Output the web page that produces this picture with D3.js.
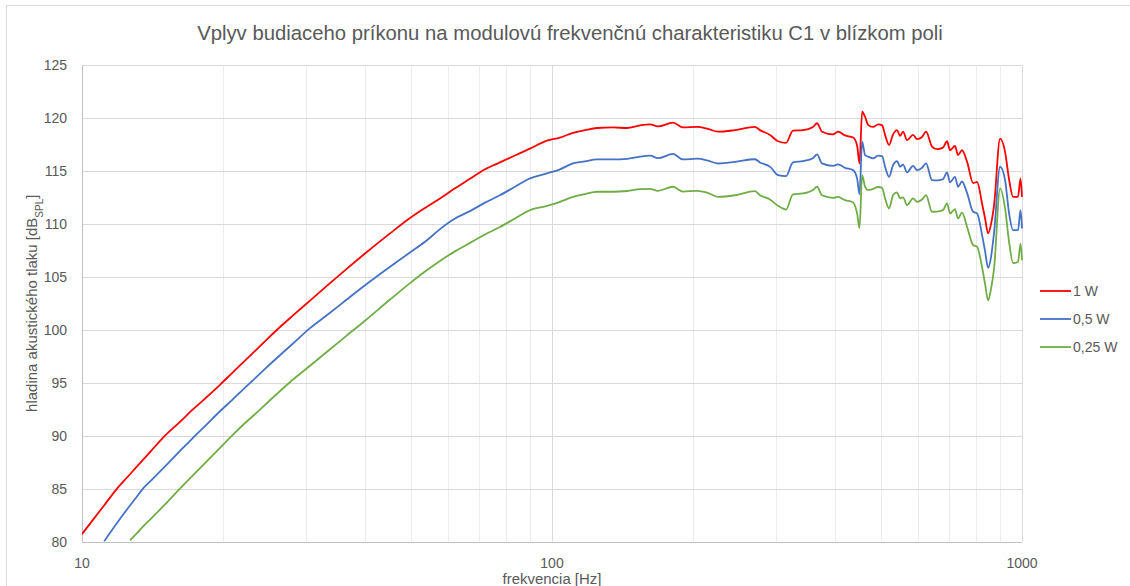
<!DOCTYPE html>
<html>
<head>
<meta charset="utf-8">
<script src="https://cdn.jsdelivr.net/npm/d3@7"></script>
<style>
    body { margin: 0; background: #fff; }
    text { font-family: "Liberation Sans", Arial, sans-serif; fill: #595959; }
</style>
</head>
<body>
<div class="chartdiv"></div>
<script>
// frequency points [Hz]
const freqHz = [
    10.0, 10.66, 11.14, 11.87, 12.65, 13.09, 13.48, 14.09, 15.02, 16.16,
    17.14, 18.27, 19.66, 20.96, 22.00, 23.92, 26.00, 28.12, 30.56, 33.71,
    36.46, 40.01, 45.23, 49.88, 53.68, 57.77, 62.17, 66.91, 72.01, 77.49,
    83.40, 89.76, 97.58, 104.0, 110.8, 117.5, 124.7, 134.9, 144.4, 153.9,
    161.6, 168.1, 180.9, 190.0, 203.5, 213.7, 225.5, 245.1, 270.3, 277.0,
    290.9, 302.6, 314.7, 325.6, 342.0, 359.2, 366.3, 375.4, 396.2, 406.1,
    420.3, 437.1, 445.8, 451.1, 456.9, 463.6, 470.5, 482.2, 494.1, 503.9,
    511.3, 521.4, 531.7, 542.2, 550.2, 558.4, 569.4, 586.4, 598.0, 612.8,
    624.9, 643.5, 659.5, 679.1, 692.6, 702.8, 720.2, 730.9, 745.3, 764.2,
    787.0, 802.6, 822.4, 834.6, 847.0, 859.5, 872.2, 898.2, 920.4, 938.6,
    957.2, 980.6, 992.7, 1000
]

// SPL [dB] for each power
const spl1W = [
    80.7, 82.3, 83.4, 85.0, 86.35, 87.1, 87.7, 88.65, 90.0, 91.3,
    92.4, 93.5, 94.8, 96.0, 96.9, 98.45, 100.0, 101.35, 102.75, 104.4,
    105.7, 107.2, 109.1, 110.55, 111.5, 112.4, 113.35, 114.25, 115.15, 115.8,
    116.45, 117.1, 117.85, 118.15, 118.6, 118.85, 119.05, 119.1, 119.05, 119.3,
    119.4, 119.2, 119.55, 119.1, 119.15, 119.0, 118.7, 118.85, 119.15, 118.85,
    118.4, 117.8, 117.65, 118.8, 118.85, 119.15, 119.5, 118.7, 118.45, 118.7,
    118.35, 118.15, 117.4, 115.7, 120.6, 120.1, 119.35, 119.15, 119.4, 119.3,
    118.4, 117.45, 118.45, 118.85, 118.3, 118.7, 117.9, 118.4, 118.0, 118.2,
    118.7, 117.3, 117.05, 117.2, 117.8, 116.95, 117.35, 116.5, 116.95, 115.85,
    113.85, 113.95, 111.9, 110.5, 109.1, 110.0, 111.8, 118.05, 116.8, 114.2,
    112.55, 112.55, 114.3, 112.55
]
const spl05W = [
    null, null, 80.0, 81.75, 83.4, 84.25, 85.0, 85.85, 87.1, 88.55,
    89.7, 90.9, 92.3, 93.45, 94.35, 95.85, 97.35, 98.7, 100.15, 101.6,
    102.8, 104.2, 105.95, 107.3, 108.3, 109.5, 110.5, 111.2, 112.0, 112.7,
    113.5, 114.3, 114.76, 115.15, 115.7, 115.9, 116.08, 116.08, 116.14, 116.35,
    116.45, 116.2, 116.6, 116.08, 116.15, 116.0, 115.7, 115.85, 116.1, 115.8,
    115.4, 114.6, 114.5, 115.8, 115.93, 116.2, 116.56, 115.71, 115.48, 115.61,
    115.29, 115.07, 114.29, 112.8, 117.75, 116.49, 116.35, 116.18, 116.45, 116.4,
    115.39, 114.44, 115.55, 115.93, 115.39, 115.6, 114.86, 115.48, 115.07, 115.3,
    115.71, 114.13, 114.1, 114.22, 114.86, 113.91, 114.44, 113.5, 114.0, 112.9,
    111.14, 110.98, 108.93, 107.4, 105.84, 106.9, 109.2, 115.39, 114.13, 111.0,
    109.4, 109.4, 111.29, 109.56
]
const spl025W = [
    null, null, null, null, 80.1, 80.8, 81.4, 82.25, 83.5, 85.0,
    86.15, 87.4, 88.85, 90.1, 91.0, 92.45, 93.95, 95.3, 96.6, 98.15,
    99.4, 100.85, 102.85, 104.4, 105.5, 106.5, 107.4, 108.2, 109.0, 109.7,
    110.5, 111.3, 111.7, 112.08, 112.55, 112.8, 113.03, 113.03, 113.1, 113.28,
    113.31, 113.12, 113.5, 113.05, 113.12, 112.95, 112.55, 112.7, 113.08, 112.7,
    112.3, 111.7, 111.35, 112.78, 112.87, 113.2, 113.5, 112.7, 112.46, 112.55,
    112.24, 112.02, 110.98, 109.6, 114.6, 113.5, 113.2, 113.3, 113.48, 113.4,
    112.4, 111.45, 112.71, 112.97, 112.4, 112.5, 111.76, 112.4, 112.08, 112.3,
    112.71, 111.14, 111.15, 111.29, 111.93, 110.98, 111.39, 110.51, 111.05, 109.7,
    108.0, 107.82, 105.9, 104.3, 102.78, 103.9, 105.8, 113.34, 111.45, 108.3,
    106.3, 106.4, 108.14, 106.56
]

const seriesNames = ['1 W', '0,5 W', '0,25 W']
const seriesColors = ['#ff0000', '#4472c4', '#70ad47']
const seriesValues = [spl1W, spl05W, spl025W]

const xTicks = [10, 100, 1000]
const yTicks = [80, 85, 90, 95, 100, 105, 110, 115, 120, 125]

const titleText = 'Vplyv budiaceho príkonu na modulovú frekvenčnú charakteristiku C1 v blízkom poli'

let W = 1130, H = 586
let plotL = 82, plotT = 65, plotR = 1022, plotB = 541.5

let svg = d3.select('.chartdiv').append('svg')
    .attr('width', W)
    .attr('height', H)

// chart area border
svg.append('rect')
    .attr('x', 6.5).attr('y', 5.5)
    .attr('width', 1200).attr('height', 700)
    .attr('fill', 'none')
    .attr('stroke', '#d9d9d9')

let xScale = d3.scaleLog().domain([10, 1000]).range([plotL, plotR])
let yScale = d3.scaleLinear().domain([80, 125]).range([plotB, plotT])

// gridlines - minor verticals first
let minor = []
for (let dec = 10; dec < 1000; dec *= 10) {
    for (let k = 2; k <= 9; k++) minor.push(dec * k)
}
svg.append('g').selectAll('line')
    .data(minor).enter().append('line')
    .attr('x1', d => Math.round(xScale(d)) + 0.5)
    .attr('x2', d => Math.round(xScale(d)) + 0.5)
    .attr('y1', plotT).attr('y2', plotB)
    .attr('stroke', '#ececec')

svg.append('g').selectAll('line')
    .data(yTicks).enter().append('line')
    .attr('x1', plotL).attr('x2', plotR)
    .attr('y1', d => Math.round(yScale(d)) + 0.5)
    .attr('y2', d => Math.round(yScale(d)) + 0.5)
    .attr('stroke', '#d9d9d9')

svg.append('g').selectAll('line')
    .data(xTicks).enter().append('line')
    .attr('x1', d => Math.round(xScale(d)) + 0.5)
    .attr('x2', d => Math.round(xScale(d)) + 0.5)
    .attr('y1', plotT).attr('y2', plotB)
    .attr('stroke', '#d9d9d9')

// axis lines
svg.append('line')
    .attr('x1', plotL).attr('x2', plotR)
    .attr('y1', Math.round(plotB) + 0.5).attr('y2', Math.round(plotB) + 0.5)
    .attr('stroke', '#bfbfbf')
svg.append('line')
    .attr('x1', plotL + 0.5).attr('x2', plotL + 0.5)
    .attr('y1', plotT).attr('y2', plotB)
    .attr('stroke', '#bfbfbf')

// tick labels
svg.append('g').selectAll('text')
    .data(yTicks).enter().append('text')
    .attr('x', 67)
    .attr('y', d => yScale(d) + 5)
    .attr('text-anchor', 'end')
    .style('font-size', '14px')
    .text(d => d)

svg.append('g').selectAll('text')
    .data(xTicks).enter().append('text')
    .attr('x', d => xScale(d))
    .attr('y', 568)
    .attr('text-anchor', 'middle')
    .style('font-size', '14px')
    .text(d => d)

// clip lines to plot area
svg.append('clipPath').attr('id', 'plotclip')
    .append('rect')
    .attr('x', plotL).attr('y', plotT - 2)
    .attr('width', plotR - plotL + 2).attr('height', plotB - plotT + 2)

let line = d3.line()
    .defined(d => d.y != null)
    .curve(d3.curveMonotoneX)
    .x(d => xScale(d.x))
    .y(d => yScale(d.y))

let gLines = svg.append('g').attr('clip-path', 'url(#plotclip)')
seriesValues.forEach((vals, i) => {
    let pts = freqHz.map((f, j) => ({ x: f, y: vals[j] }))
    gLines.append('path')
        .datum(pts)
        .attr('d', line)
        .attr('fill', 'none')
        .attr('stroke', seriesColors[i])
        .attr('stroke-width', 1.8)
        .attr('stroke-linejoin', 'round')
})

// fit a text element to a target width by scaling font size
function fitText(sel, target) {
    let fs = parseFloat(sel.style('font-size'))
    let len = sel.node().getComputedTextLength()
    sel.style('font-size', (fs * target / len) + 'px')
}

// title
let title = svg.append('text')
    .attr('x', 570).attr('y', 40)
    .attr('text-anchor', 'middle')
    .style('font-size', '17px')
    .text(titleText)
fitText(title, 746)

// x axis title
let xt = svg.append('text')
    .attr('x', 552).attr('y', 584)
    .attr('text-anchor', 'middle')
    .style('font-size', '14px')
    .text('frekvencia [Hz]')
fitText(xt, 99)

// y axis title with subscript
let yt = svg.append('text')
    .attr('transform', 'translate(37,' + ((plotT + plotB) / 2) + ') rotate(-90)')
    .attr('text-anchor', 'middle')
    .style('font-size', '15px')
yt.append('tspan').text('hladina akustického tlaku [dB')
yt.append('tspan').attr('baseline-shift', 'sub').style('font-size', '10px').text('SPL')
yt.append('tspan').text(']')

// legend
let legend = svg.append('g')
seriesNames.forEach((name, i) => {
    let ly = 291 + i * 28
    legend.append('line')
        .attr('x1', 1040).attr('x2', 1071)
        .attr('y1', ly).attr('y2', ly)
        .attr('stroke', seriesColors[i])
        .attr('stroke-width', 1.8)
    legend.append('text')
        .attr('x', 1073).attr('y', ly + 5)
        .style('font-size', '14px')
        .text(name)
})
</script>
</body>
</html>
